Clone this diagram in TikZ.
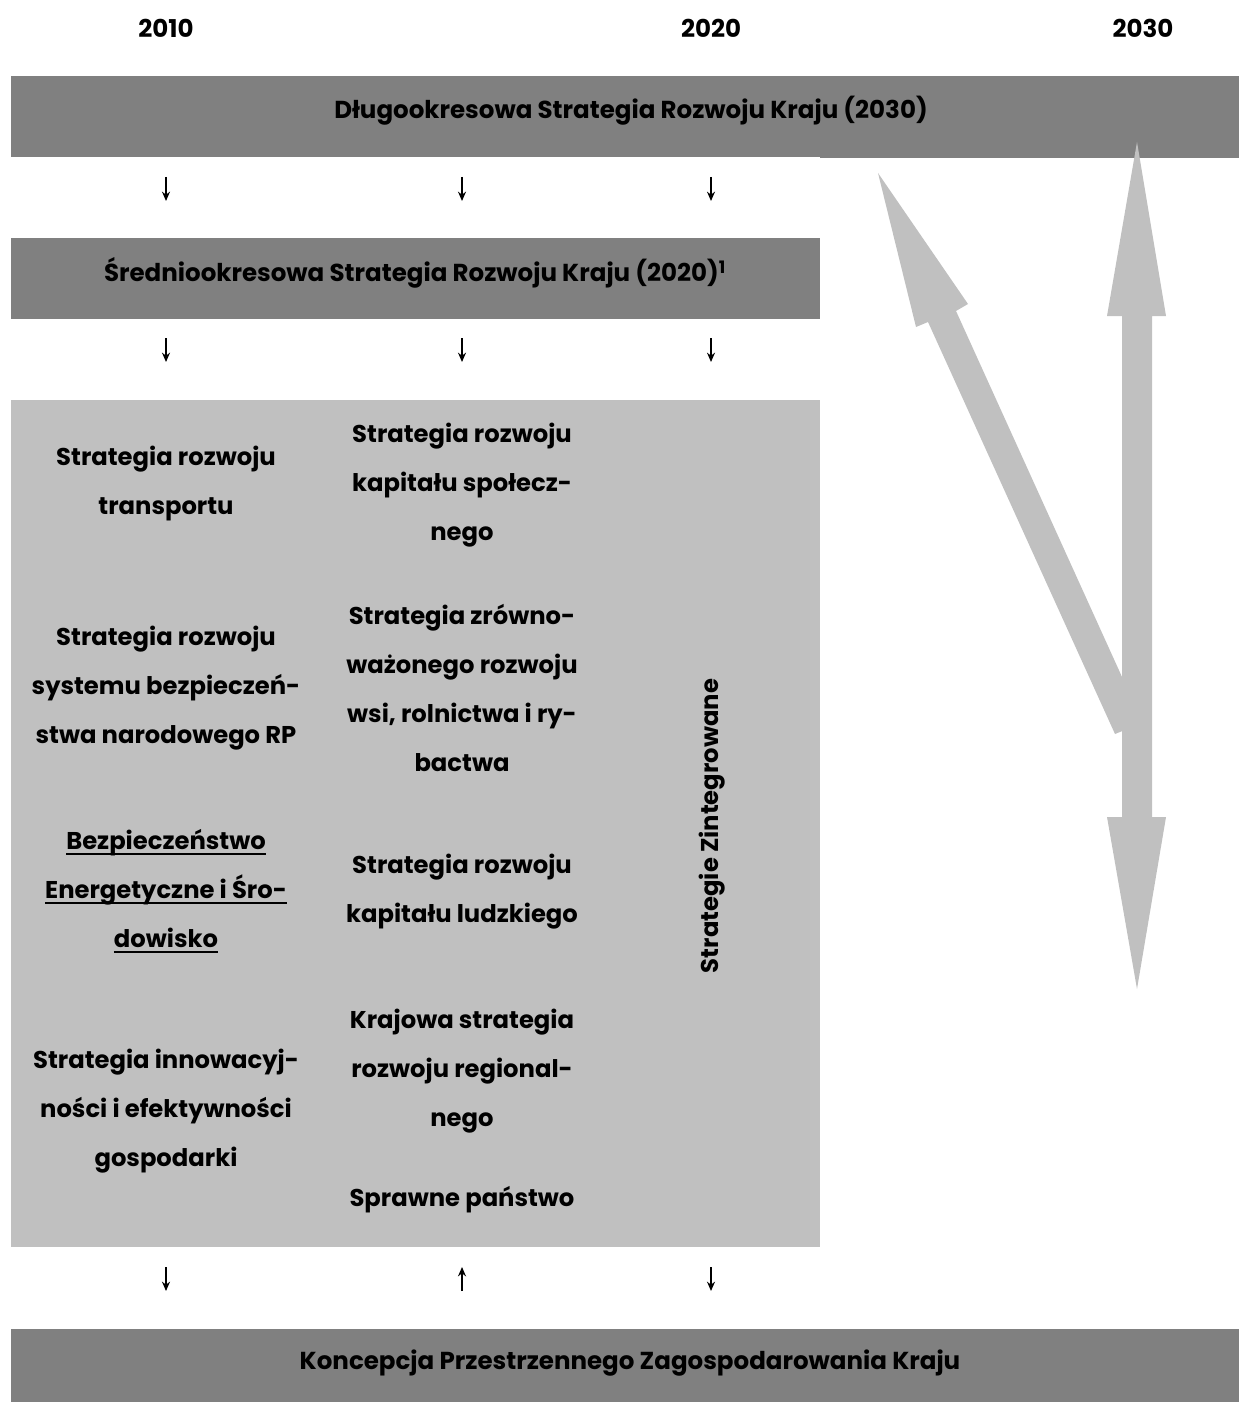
\documentclass[tikz,border=0pt]{standalone}
\usepackage{fontspec}
\setmainfont{Poppins}
\usepackage{tikz}
\usetikzlibrary{arrows.meta,positioning,calc}
\definecolor{darkbar}{HTML}{808080}
\definecolor{lightbox}{HTML}{C0C0C0}
\newcommand{\thickul}[1]{\setbox0\hbox{#1}\rlap{\raisebox{-4.6pt}{\rule{\wd0}{1.7pt}}}\box0}
\tikzset{multiline/.style={align=center,font=\bfseries\fontsize{18.2}{36.75}\selectfont,execute at begin node=\setlength{\baselineskip}{36.75pt}},
  bartext/.style={font=\bfseries\fontsize{18.4}{22}\selectfont},
  smallarrow/.style={line width=1.2pt,-{Stealth[length=7pt,width=6pt]}}}

\begin{document}
\begin{tikzpicture}[x=0.75pt,y=-0.75pt]
		\useasboundingbox (0,0) rectangle (1239,1402);
		% years
		\node[bartext] (y2010) at (166,28) {2010};
		\node[bartext] (y2020) at (711,28) {2020};
		\node[bartext] (y2030) at (1143,28) {2030};
		% bars
		\fill[darkbar] (11,76) rectangle (1239,157);
		\fill[darkbar] (820,150) rectangle (1239,158);
		\node[bartext] (dlugo) at (631,111) {Długookresowa Strategia Rozwoju Kraju (2030)};
		\fill[darkbar] (11,238) rectangle (820,319);
		\node[bartext] (srednio) at (415,273) {Średniookresowa Strategia Rozwoju Kraju (2020)\textsuperscript{1}};
		\fill[lightbox] (11,400) rectangle (820,1247);
		\fill[darkbar] (11,1329) rectangle (1239,1402);
		\node[bartext] (kpzk) at (630,1363) {Koncepcja Przestrzennego Zagospodarowania Kraju};
		% small arrows
		\foreach \x in {166,462,711} \draw[smallarrow] (\x,177) -- (\x,201);
		\foreach \x in {166,462,711} \draw[smallarrow] (\x,338) -- (\x,362);
		\draw[smallarrow] (166,1267) -- (166,1291);
		\draw[smallarrow] (462,1291) -- (462,1267);
		\draw[smallarrow] (711,1267) -- (711,1291);
		% strategies, left column
		\node[multiline] (transport) at (166,484) {Strategia rozwoju\\transportu};
		\node[multiline] (bezp) at (166,688) {Strategia rozwoju\\systemu bezpieczeń-\\stwa narodowego RP};
		\node[multiline] (energ) at (166,891) {\thickul{Bezpieczeństwo}\\\thickul{Energetyczne i Śro-}\\\thickul{dowisko}};
		\node[multiline] (innow) at (166,1111) {Strategia innowacyj-\\ności i efektywności\\gospodarki};
		% strategies, middle column
		\node[multiline] (spol) at (462,485) {Strategia rozwoju\\kapitału społecz-\\nego};
		\node[multiline] (wsi) at (462,687.5) {Strategia zrówno-\\ważonego rozwoju\\wsi, rolnictwa i ry-\\bactwa};
		\node[multiline] (ludz) at (462,891.5) {Strategia rozwoju\\kapitału ludzkiego};
		\node[multiline] (region) at (462,1071) {Krajowa strategia\\rozwoju regional-\\nego};
		\node[multiline] (sprawne) at (462,1200) {Sprawne państwo};
		\node[multiline,rotate=90] (zint) at (712,826) {Strategie Zintegrowane};
		% big arrows
		\fill[lightbox] (878,173) -- (968,304) -- (956,311) -- (1137,710) -- (1137,725) -- (1115,734) -- (928,322) -- (916,327) -- cycle;
		\fill[lightbox] (1137,142) -- (1166,316) -- (1152,316) -- (1152,817) -- (1166,817) -- (1137,989) -- (1107,817) -- (1122,817) -- (1122,316) -- (1107,316) -- cycle;
\end{tikzpicture}
\end{document}
